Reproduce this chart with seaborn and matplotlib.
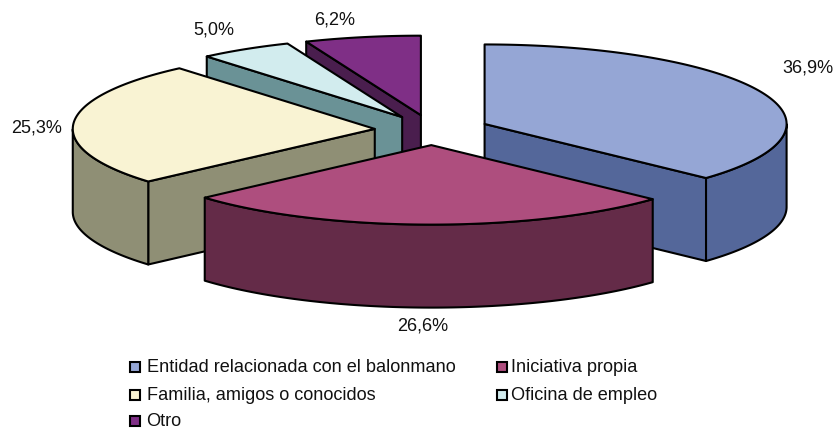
import numpy as np
import matplotlib
matplotlib.use("Agg")
import matplotlib.pyplot as plt
import seaborn as sns

# Data
categories = ["Entidad relacionada con el balonmano", "Iniciativa propia",
              "Familia, amigos o conocidos", "Oficina de empleo", "Otro"]
shares = [36.9, 26.6, 25.3, 5.0, 6.2]
share_labels = ["36,9%", "26,6%", "25,3%", "5,0%", "6,2%"]

# Styles
top_colors = ["#95A6D5", "#AE4E7E", "#F9F3D3", "#D2ECEE", "#7F2F86"]
side_colors = ["#54679A", "#642B48", "#8F8F75", "#6A9296", "#4A1E4E"]

# Layout (pixels)
CX, CY = 432, 130
RX, RY = 302, 79.5
DEPTH = 83
EXPLODE = 0.19
label_xy = [(808, 68), (423, 326), (37, 128), (214, 30), (335, 20)]
legend_xy = [(130, 367), (497, 367), (130, 395), (497, 395), (130, 421)]
legend_text_dx = [17, 14, 17, 14, 16]
draw_order = [4, 3, 2, 0, 1]

sns.set_theme(style="white")
plt.rcParams["font.family"] = ["Liberation Sans", "DejaVu Sans"]

fig = plt.figure(figsize=(8.35, 4.30), dpi=100)
ax = fig.add_axes([0, 0, 1, 1])
ax.set_xlim(0, 835)
ax.set_ylim(430, 0)
ax.axis("off")

edges = np.deg2rad(np.cumsum([0] + shares) / sum(shares) * 360)


def rim(apex, t):
    return apex[0] + RX * np.sin(t), apex[1] - RY * np.cos(t)


LW = 1.5
for i in draw_order:
    t0, t1 = edges[i], edges[i + 1]
    mid = (t0 + t1) / 2
    apex = (CX + RX * EXPLODE * np.sin(mid), CY - RY * EXPLODE * np.cos(mid))
    t = np.linspace(t0, t1, 200)
    xr, yr = rim(apex, t)

    # radial walls: only those that face the viewer
    for te, normal in ((t0, t0 - np.pi / 2), (t1, t1 + np.pi / 2)):
        if np.cos(normal) < -1e-6:
            xe, ye = rim(apex, te)
            ax.fill([apex[0], xe, xe, apex[0]],
                    [apex[1], ye, ye + DEPTH, apex[1] + DEPTH],
                    facecolor=side_colors[i], edgecolor="black", lw=LW, joinstyle="round")

    # curved outer wall: only the front half of the ellipse
    mask = np.cos(t) <= 0
    if mask.any():
        xf, yf = xr[mask], yr[mask]
        ax.fill(np.r_[xf, xf[::-1]], np.r_[yf, yf[::-1] + DEPTH],
                facecolor=side_colors[i], edgecolor="black", lw=LW, joinstyle="round")

    # top face
    ax.fill(np.r_[apex[0], xr], np.r_[apex[1], yr],
            facecolor=top_colors[i], edgecolor="black", lw=LW, joinstyle="round")

for lab, (x, y) in zip(share_labels, label_xy):
    ax.text(x, y, lab, ha="center", va="center", fontsize=13, color="#111111")

for i, (x, y) in enumerate(legend_xy):
    ax.add_patch(plt.Rectangle((x, y - 5), 10, 10, facecolor=top_colors[i],
                               edgecolor="black", lw=1.5))
    ax.text(x + legend_text_dx[i], y, categories[i], ha="left", va="center",
            fontsize=13.1, color="#111111")

fig.savefig("out.png", dpi=100)
